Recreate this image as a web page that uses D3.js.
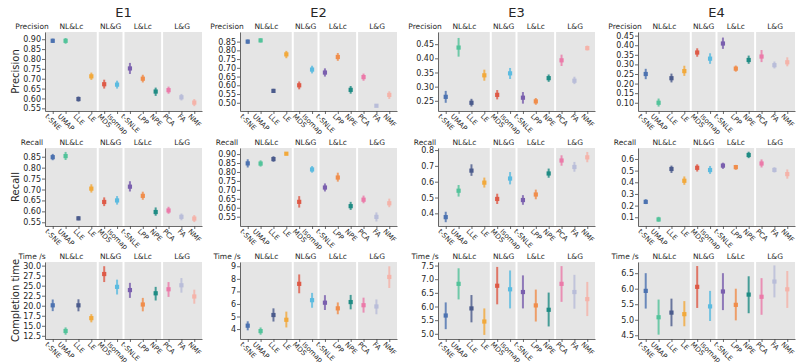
<!DOCTYPE html>
<html>
<head>
<meta charset="utf-8">
<script src="https://cdn.jsdelivr.net/npm/d3@7"></script>
<style>
  body { margin: 0; background: #fff; }
  text { font-family: "DejaVu Sans", sans-serif; fill: #262626; }
</style>
</head>
<body>
<script>
// categories
var experiments = ["E1", "E2", "E3", "E4"];
var methods = ["t-SNE", "UMAP", "LLE", "LE", "MDS", "Isomap", "t-SNLE", "LPP", "NPE", "PCA", "FA", "NMF"];
var groupNames = ["NL&Lc", "NL&G", "L&Lc", "L&G"];
var groupSizes = [4, 2, 3, 3];
var colors = ["#4c72b0", "#52c39a", "#4b5b8c", "#f2a93b", "#de5a47", "#5bbbe0",
              "#7a5fae", "#f08d4b", "#1f8c84", "#eb7aa9", "#b9bdd9", "#f5b3a9"];
var rowLabels = ["Precision", "Recall", "Completion time"];
var headerLabels = ["Precision", "Recall", "Time /s"];

// Precision: mean / lower / upper of the interval, one array per experiment
var precisionE1 = [0.892, 0.892, 0.597, 0.712, 0.672, 0.670, 0.752, 0.700, 0.635, 0.642, 0.606, 0.579];
var precisionE1Lo = [0.881, 0.877, 0.584, 0.694, 0.650, 0.650, 0.724, 0.681, 0.613, 0.624, 0.590, 0.561];
var precisionE1Hi = [0.903, 0.906, 0.610, 0.731, 0.695, 0.690, 0.780, 0.720, 0.655, 0.660, 0.623, 0.597];
var precisionE2 = [0.850, 0.857, 0.568, 0.777, 0.600, 0.690, 0.673, 0.762, 0.574, 0.647, 0.483, 0.545];
var precisionE2Lo = [0.838, 0.845, 0.556, 0.755, 0.577, 0.668, 0.650, 0.740, 0.552, 0.626, 0.479, 0.522];
var precisionE2Hi = [0.862, 0.869, 0.580, 0.797, 0.622, 0.712, 0.697, 0.785, 0.596, 0.667, 0.488, 0.566];
var precisionE3 = [0.264, 0.438, 0.243, 0.340, 0.271, 0.347, 0.261, 0.248, 0.330, 0.393, 0.321, 0.436];
var precisionE3Lo = [0.243, 0.406, 0.230, 0.321, 0.255, 0.327, 0.240, 0.236, 0.317, 0.373, 0.309, 0.428];
var precisionE3Hi = [0.285, 0.472, 0.257, 0.360, 0.288, 0.366, 0.281, 0.260, 0.343, 0.413, 0.335, 0.445];
var precisionE4 = [0.250, 0.100, 0.228, 0.265, 0.362, 0.330, 0.409, 0.278, 0.323, 0.341, 0.296, 0.311];
var precisionE4Lo = [0.223, 0.080, 0.206, 0.240, 0.340, 0.303, 0.381, 0.262, 0.303, 0.312, 0.279, 0.290];
var precisionE4Hi = [0.277, 0.122, 0.252, 0.293, 0.384, 0.358, 0.440, 0.294, 0.346, 0.375, 0.315, 0.337];

// Recall
var recallE1 = [0.848, 0.853, 0.568, 0.704, 0.643, 0.650, 0.713, 0.671, 0.597, 0.604, 0.575, 0.567];
var recallE1Lo = [0.834, 0.835, 0.559, 0.686, 0.624, 0.631, 0.691, 0.653, 0.580, 0.589, 0.559, 0.551];
var recallE1Hi = [0.863, 0.872, 0.578, 0.724, 0.664, 0.670, 0.738, 0.690, 0.618, 0.621, 0.590, 0.583];
var recallE2 = [0.848, 0.847, 0.872, 0.902, 0.633, 0.814, 0.713, 0.769, 0.609, 0.645, 0.549, 0.625];
var recallE2Lo = [0.825, 0.830, 0.857, 0.897, 0.601, 0.796, 0.691, 0.746, 0.588, 0.625, 0.523, 0.603];
var recallE2Hi = [0.871, 0.865, 0.888, 0.908, 0.665, 0.833, 0.736, 0.796, 0.633, 0.668, 0.574, 0.651];
var recallE3 = [0.376, 0.543, 0.670, 0.594, 0.491, 0.620, 0.484, 0.519, 0.652, 0.734, 0.693, 0.754];
var recallE3Lo = [0.344, 0.506, 0.637, 0.563, 0.459, 0.583, 0.454, 0.489, 0.625, 0.701, 0.663, 0.723];
var recallE3Hi = [0.410, 0.579, 0.710, 0.626, 0.524, 0.661, 0.515, 0.550, 0.683, 0.767, 0.725, 0.788];
var recallE4 = [0.232, 0.081, 0.514, 0.413, 0.524, 0.505, 0.543, 0.530, 0.634, 0.561, 0.506, 0.470];
var recallE4Lo = [0.213, 0.062, 0.480, 0.378, 0.492, 0.472, 0.515, 0.507, 0.607, 0.527, 0.484, 0.431];
var recallE4Hi = [0.255, 0.104, 0.543, 0.450, 0.554, 0.540, 0.568, 0.549, 0.662, 0.596, 0.529, 0.510];

// Completion time (s)
var timeE1 = [20.1, 13.7, 20.1, 16.9, 27.9, 24.7, 23.9, 20.3, 23.1, 24.1, 25.1, 22.3];
var timeE1Lo = [18.65, 12.75, 18.6, 15.85, 25.9, 22.8, 21.95, 18.6, 21.3, 22.2, 23.25, 20.5];
var timeE1Hi = [21.55, 14.6, 21.6, 17.9, 29.85, 26.5, 25.7, 21.95, 24.7, 25.9, 26.9, 24.0];
var timeE2 = [4.27, 3.84, 5.12, 4.74, 7.6, 6.3, 6.1, 5.65, 6.15, 5.9, 5.8, 8.15];
var timeE2Lo = [3.9, 3.55, 4.6, 4.13, 6.85, 5.7, 5.52, 5.18, 5.57, 5.31, 5.18, 7.27];
var timeE2Hi = [4.62, 4.13, 5.65, 5.39, 8.35, 6.88, 6.7, 6.12, 6.72, 6.5, 6.36, 9.0];
var timeE3 = [5.67, 6.83, 5.93, 5.45, 6.76, 6.63, 6.53, 6.04, 5.88, 6.83, 6.53, 6.27];
var timeE3Lo = [5.17, 6.26, 5.42, 4.96, 6.08, 5.93, 5.93, 5.45, 5.27, 6.17, 5.92, 5.65];
var timeE3Hi = [6.15, 7.4, 6.42, 5.93, 7.45, 7.32, 7.14, 6.62, 6.51, 7.48, 7.16, 6.9];
var timeE4 = [5.93, 5.08, 5.23, 5.18, 6.06, 5.43, 5.91, 5.48, 5.81, 5.74, 6.23, 5.98];
var timeE4Lo = [5.36, 4.52, 4.79, 4.79, 5.38, 4.96, 5.31, 4.98, 5.21, 5.16, 5.72, 5.38];
var timeE4Hi = [6.5, 5.65, 5.68, 5.6, 6.73, 5.93, 6.5, 6.0, 6.4, 6.34, 6.75, 6.57];

// axis limits and tick labels per panel
var precisionDomains = [[0.5365, 0.9365], [0.453, 0.905], [0.214, 0.493], [0.057, 0.469]];
var recallDomains = [[0.533, 0.89], [0.498, 0.934], [0.32, 0.813], [0.025, 0.694]];
var timeDomains = [[11.7, 30.9], [3.21, 9.34], [4.81, 7.63], [4.38, 6.86]];
var precisionTicks = [
  ["0.55", "0.60", "0.65", "0.70", "0.75", "0.80", "0.85", "0.90"],
  ["0.50", "0.55", "0.60", "0.65", "0.70", "0.75", "0.80", "0.85"],
  ["0.25", "0.30", "0.35", "0.40", "0.45"],
  ["0.10", "0.15", "0.20", "0.25", "0.30", "0.35", "0.40", "0.45"]];
var recallTicks = [
  ["0.55", "0.60", "0.65", "0.70", "0.75", "0.80", "0.85"],
  ["0.55", "0.60", "0.65", "0.70", "0.75", "0.80", "0.85", "0.90"],
  ["0.4", "0.5", "0.6", "0.7", "0.8"],
  ["0.1", "0.2", "0.3", "0.4", "0.5", "0.6"]];
var timeTicks = [
  ["12.5", "15.0", "17.5", "20.0", "22.5", "25.0", "27.5", "30.0"],
  ["4", "5", "6", "7", "8", "9"],
  ["5.0", "5.5", "6.0", "6.5", "7.0", "7.5"],
  ["4.5", "5.0", "5.5", "6.0", "6.5"]];

var rows = [
  {mean: [precisionE1, precisionE2, precisionE3, precisionE4],
   lo: [precisionE1Lo, precisionE2Lo, precisionE3Lo, precisionE4Lo],
   hi: [precisionE1Hi, precisionE2Hi, precisionE3Hi, precisionE4Hi],
   domains: precisionDomains, ticks: precisionTicks},
  {mean: [recallE1, recallE2, recallE3, recallE4],
   lo: [recallE1Lo, recallE2Lo, recallE3Lo, recallE4Lo],
   hi: [recallE1Hi, recallE2Hi, recallE3Hi, recallE4Hi],
   domains: recallDomains, ticks: recallTicks},
  {mean: [timeE1, timeE2, timeE3, timeE4],
   lo: [timeE1Lo, timeE2Lo, timeE3Lo, timeE4Lo],
   hi: [timeE1Hi, timeE2Hi, timeE3Hi, timeE4Hi],
   domains: timeDomains, ticks: timeTicks}
];

// layout
var width = 806, height = 364;
var panelLeft = [45, 240, 438, 638], panelWidth = 157;
var rowTop = [32, 148, 262], rowHeight = [79, 78, 77];

var svg = d3.select("body").append("svg")
  .attr("width", width)
  .attr("height", height);

// column titles
experiments.forEach(function(e, c){
  svg.append("text")
    .attr("x", panelLeft[c] + panelWidth / 2)
    .attr("y", 17)
    .attr("text-anchor", "middle")
    .style("font-size", "13px")
    .text(e);
});

rows.forEach(function(row, r){
  var top = rowTop[r], bottom = top + rowHeight[r];

  // row label on the far left
  svg.append("text")
    .attr("transform", "translate(19," + (top + rowHeight[r] / 2) + ") rotate(-90)")
    .attr("text-anchor", "middle")
    .style("font-size", "10px")
    .text(rowLabels[r]);

  experiments.forEach(function(e, c){
    var g = svg.append("g");
    var x = d3.scalePoint().domain(methods)
      .range([panelLeft[c], panelLeft[c] + panelWidth]).padding(0.6);
    var y = d3.scaleLinear().domain(row.domains[c]).range([bottom, top]);

    g.append("rect")
      .attr("x", panelLeft[c]).attr("y", top)
      .attr("width", panelWidth).attr("height", rowHeight[r])
      .style("fill", "#e5e5e5");

    // group separators and group names
    var start = 0, bounds = [panelLeft[c]];
    groupSizes.forEach(function(n, k){
      start += n;
      if (k < groupSizes.length - 1) {
        var sx = (x(methods[start - 1]) + x(methods[start])) / 2;
        bounds.push(sx);
        g.append("line")
          .attr("x1", sx).attr("x2", sx)
          .attr("y1", top).attr("y2", bottom)
          .style("stroke", "#fff").style("stroke-width", 2);
      }
    });
    bounds.push(panelLeft[c] + panelWidth);
    groupNames.forEach(function(name, k){
      g.append("text")
        .attr("x", (bounds[k] + bounds[k + 1]) / 2)
        .attr("y", top - 3.5)
        .attr("text-anchor", "middle")
        .style("font-size", "7.5px")
        .text(name);
    });
    g.append("text")
      .attr("x", panelLeft[c] - 13)
      .attr("y", top - 3.5)
      .attr("text-anchor", "middle")
      .style("font-size", "7.5px")
      .text(headerLabels[r]);

    // axes
    var tickLabels = row.ticks[c];
    var yAxis = g.append("g")
      .attr("transform", "translate(" + panelLeft[c] + ",0)")
      .call(d3.axisLeft(y)
        .tickValues(tickLabels.map(Number))
        .tickFormat(function(d, i){ return tickLabels[i]; })
        .tickSize(3).tickSizeOuter(0));
    yAxis.selectAll("text").style("font-size", "8px").attr("x", -4);

    var xAxis = g.append("g")
      .attr("transform", "translate(0," + bottom + ")")
      .call(d3.axisBottom(x).tickSize(3).tickSizeOuter(0));
    xAxis.selectAll("text")
      .style("font-size", "7px")
      .attr("text-anchor", "middle")
      .attr("y", 0)
      .attr("dy", "0.35em")
      .attr("transform", function(){
        var L = this.getComputedTextLength();
        var cy = 2 + (L + 6) * 0.7071 / 2;
        return "translate(0," + cy + ") rotate(45)";
      });
    [yAxis, xAxis].forEach(function(a){
      a.select(".domain").style("stroke", "#444").style("stroke-width", 0.8);
      a.selectAll(".tick line").style("stroke", "#444").style("stroke-width", 0.8);
    });

    // intervals and means
    var pts = methods.map(function(m, i){
      return {m: m, mean: row.mean[c][i], lo: row.lo[c][i], hi: row.hi[c][i], color: colors[i]};
    });
    g.selectAll(".ci").data(pts).enter().append("line")
      .attr("x1", function(d){ return x(d.m); })
      .attr("x2", function(d){ return x(d.m); })
      .attr("y1", function(d){ return y(d.lo); })
      .attr("y2", function(d){ return y(d.hi); })
      .style("stroke", function(d){ return d.color; })
      .style("stroke-width", 2)
      .style("opacity", 0.8);
    g.selectAll(".pt").data(pts).enter().append("rect")
      .attr("x", function(d){ return x(d.m) - 2.1; })
      .attr("y", function(d){ return y(d.mean) - 2.1; })
      .attr("width", 4.2).attr("height", 4.2)
      .style("fill", function(d){ return d.color; });
  });
});
</script>
</body>
</html>
